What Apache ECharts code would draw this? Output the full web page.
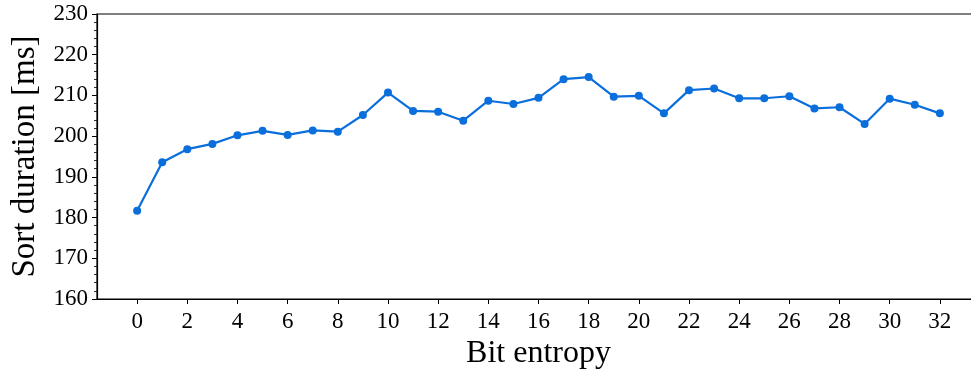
<!DOCTYPE html>
<html>
<head>
<meta charset="utf-8">
<script src="https://cdn.jsdelivr.net/npm/echarts@6/dist/echarts.min.js"></script>
<style>
  html, body { margin: 0; padding: 0; background: #fff; }
  #chart { width: 971px; height: 371px; }
</style>
</head>
<body>
<div id="chart"></div>
<script>
// Bit entropy of the input keys (x) and measured sort duration in ms (y)
const bitEntropy = [0, 1, 2, 3, 4, 5, 6, 7, 8, 9, 10, 11, 12, 13, 14, 15, 16,
  17, 18, 19, 20, 21, 22, 23, 24, 25, 26, 27, 28, 29, 30, 31, 32];
const sortDuration = [181.7, 193.6, 196.8, 198.1, 200.2, 201.3, 200.3, 201.4, 201.1, 205.2, 210.7,
  206.2, 206.0, 203.8, 208.7, 207.9, 209.4, 214.0, 214.5, 209.7, 209.9, 205.6,
  211.3, 211.7, 209.3, 209.3, 209.8, 206.8, 207.1, 203.0, 209.2, 207.7, 205.6];
const xTicks = [0, 2, 4, 6, 8, 10, 12, 14, 16, 18, 20, 22, 24, 26, 28, 30, 32];
const yTicks = [160, 170, 180, 190, 200, 210, 220, 230];

const FONT = 'Liberation Serif';
const chart = echarts.init(document.getElementById('chart'), null, { renderer: 'canvas' });

chart.setOption({
  animation: false,
  backgroundColor: '#ffffff',
  grid: {
    left: 97, top: 14, width: 883, height: 285,
    outerBoundsMode: 'none',
    containLabel: false,
    show: true, borderColor: '#000', borderWidth: 1.2, backgroundColor: 'transparent'
  },
  xAxis: {
    type: 'value',
    min: -1.6, max: 33.6,
    name: 'Bit entropy',
    nameLocation: 'middle',
    nameGap: 34,
    nameTextStyle: { fontFamily: FONT, fontSize: 32, color: '#000' },
    axisLine: { show: true, onZero: false, lineStyle: { color: '#000', width: 1.2 } },
    axisTick: { show: true, length: 5, customValues: xTicks, lineStyle: { color: '#000', width: 1 } },
    axisLabel: { customValues: xTicks, fontFamily: FONT, fontSize: 23, color: '#000', margin: 11 },
    splitLine: { show: false }
  },
  yAxis: {
    type: 'value',
    min: yTicks[0], max: yTicks[yTicks.length - 1], interval: 10,
    name: 'Sort duration [ms]',
    nameLocation: 'middle',
    nameGap: 55,
    nameTextStyle: { fontFamily: FONT, fontSize: 33, color: '#000' },
    axisLine: { show: true, onZero: false, lineStyle: { color: '#000', width: 1.2 } },
    axisTick: { show: true, length: 5, lineStyle: { color: '#000', width: 1 } },
    minorTick: { show: true, splitNumber: 5, length: 3, lineStyle: { color: '#000', width: 0.8 } },
    axisLabel: { fontFamily: FONT, fontSize: 23, color: '#000', margin: 9 },
    splitLine: { show: false }
  },
  series: [{
    type: 'line',
    data: bitEntropy.map((x, i) => [x, sortDuration[i]]),
    symbol: 'circle',
    symbolSize: 8,
    lineStyle: { color: '#0a6edb', width: 2.2 },
    itemStyle: { color: '#0a6edb' }
  }]
});
</script>
</body>
</html>
